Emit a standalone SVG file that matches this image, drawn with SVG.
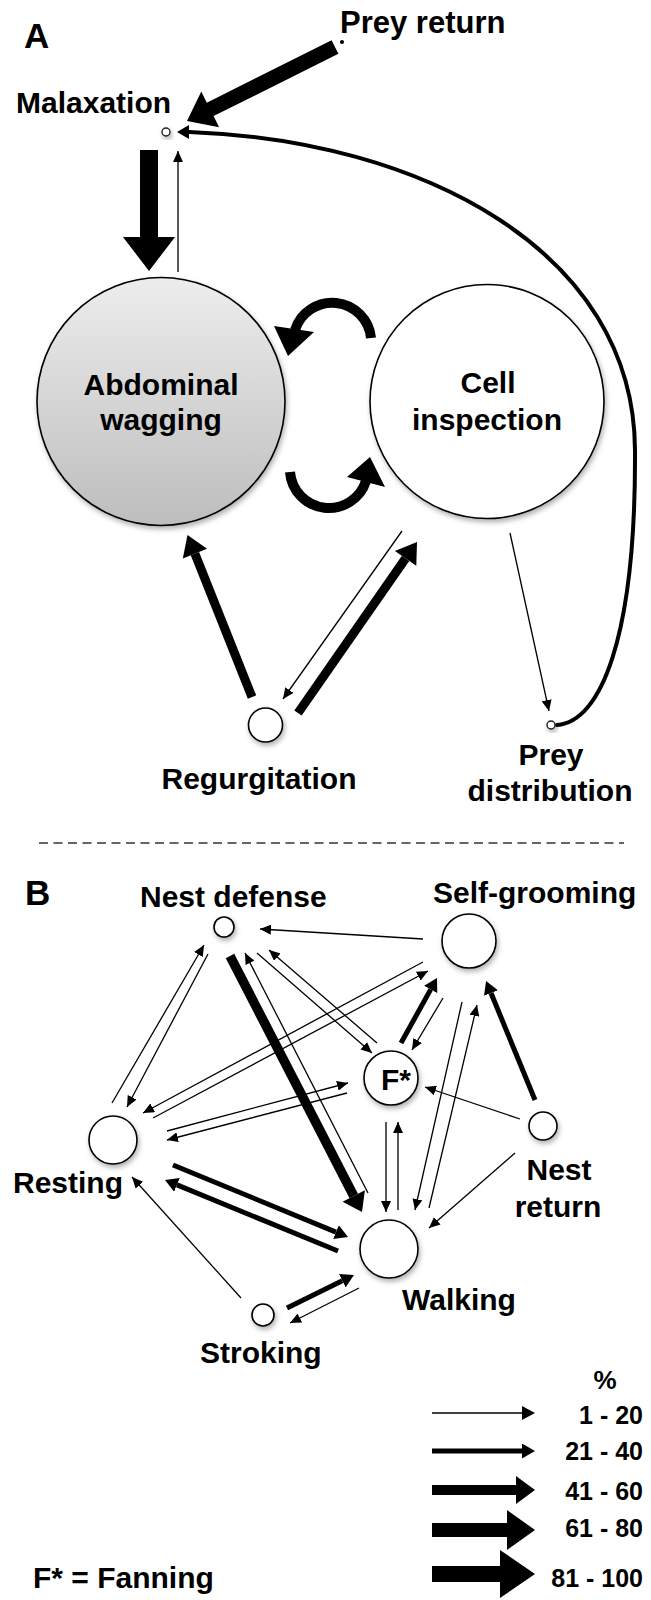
<svg xmlns="http://www.w3.org/2000/svg" width="651" height="1600" viewBox="0 0 651 1600">
<defs>
<style>
text{font-family:"Liberation Sans",Arial,Helvetica,sans-serif;font-weight:bold;fill:#000}
.lbl{font-size:30px}
.pnl{font-size:35px}
.num{font-size:25px}
.node{fill:#fff;stroke:#000;stroke-width:1.6}
.sm{fill:#fff;stroke:#222;stroke-width:1.4}
.t1{stroke:#000;stroke-width:1.3;fill:none;marker-end:url(#h1)}
.t2{stroke:#000;stroke-width:5;fill:none;marker-end:url(#h2)}
.t3{stroke:#000;stroke-width:9;fill:none}
.cv{stroke:#000;stroke-width:10;fill:none}
.hd{fill:#000}
</style>
<marker id="h1" markerUnits="userSpaceOnUse" viewBox="0 0 11 10" markerWidth="11" markerHeight="10" refX="11" refY="5" orient="auto"><path d="M0,0 L11,5 L0,10 z"/></marker>
<marker id="h2" markerUnits="userSpaceOnUse" viewBox="0 0 13 15" markerWidth="13" markerHeight="15" refX="0" refY="7.5" orient="auto"><path d="M0,0 L13,7.5 L0,15 z"/></marker>
<linearGradient id="gAW" x1="0" y1="0" x2="0" y2="1"><stop offset="0" stop-color="#ededed"/><stop offset="1" stop-color="#bdbdbd"/></linearGradient>
<filter id="sh" x="-30%" y="-30%" width="170%" height="170%"><feDropShadow dx="1.5" dy="3" stdDeviation="2.5" flood-color="#000" flood-opacity="0.3"/></filter>
</defs>
<rect width="651" height="1600" fill="#fff"/>

<text class="pnl" x="24" y="48">A</text>
<text class="pnl" x="25" y="905">B</text>

<g id="connectors">
  <!-- Part A -->
  <polygon class="hd" points="331.6,40.3 206.8,102.7 201.3,91.5 187,121 219.1,127.3 213.6,116.1 338.4,53.7"/>
  <polygon class="hd" points="140,150 158,150 158,237 175,237 149,271 123,237 140,237"/>
  <line class="t1" x1="178" y1="272" x2="178" y2="151"/>
  <path d="M 557 725 C 600 722, 636 640, 635 450 C 634 250, 420 140, 189 132" stroke="#000" stroke-width="4" fill="none" stroke-linecap="round"/>
  <polygon class="hd" points="189,125 177,132 189,139"/>
  <path class="cv" d="M 371 338 A 39 39 0 0 0 295 330"/>
  <polygon class="hd" points="274,326 288,356 314,332"/>
  <path class="cv" d="M 290 472 A 39 39 0 0 0 366 481"/>
  <polygon class="hd" points="347,477 370,457 385,487"/>
  <line class="t3" x1="252" y1="697" x2="194.9" y2="553.6"/>
  <polygon class="hd" points="207,548.8 187.5,535 182.8,558.4"/>
  <line class="t3" x1="298" y1="713" x2="405.6" y2="558.4"/>
  <polygon class="hd" points="416.3,565.8 417,542 394.9,551"/>
  <line class="t1" x1="402" y1="531" x2="283" y2="699"/>
  <line class="t1" x1="510" y1="533" x2="549" y2="711"/>

  <!-- Part B -->
  <line class="t1" x1="423" y1="939" x2="260" y2="929"/>
  <line class="t1" x1="112" y1="1103" x2="204" y2="945"/>
  <line class="t1" x1="208" y1="954" x2="127" y2="1107"/>
  <line x1="230" y1="956" x2="353.75" y2="1196" stroke="#000" stroke-width="9.5"/>
  <polygon class="hd" points="364.9,1190.3 362,1212 342.6,1201.7"/>
  <line class="t1" x1="368" y1="1193" x2="245" y2="953"/>
  <line class="t1" x1="257" y1="953" x2="372" y2="1053"/>
  <line class="t1" x1="377" y1="1043" x2="269" y2="950"/>
  <line class="t1" x1="423" y1="962" x2="143" y2="1113"/>
  <line class="t1" x1="153" y1="1118" x2="428" y2="971"/>
  <line class="t2" x1="401" y1="1043" x2="430.7" y2="989.4"/>
  <line class="t1" x1="443" y1="998" x2="412" y2="1050"/>
  <line class="t1" x1="167" y1="1131" x2="348" y2="1083"/>
  <line class="t1" x1="347" y1="1093" x2="167" y2="1140"/>
  <line class="t2" x1="173" y1="1165" x2="336" y2="1232.1"/>
  <line class="t2" x1="338" y1="1251" x2="177" y2="1184.9"/>
  <line class="t1" x1="241" y1="1298" x2="132" y2="1177"/>
  <line class="t2" x1="287" y1="1308" x2="342.3" y2="1280.7"/>
  <line class="t1" x1="359" y1="1288" x2="290" y2="1323"/>
  <line class="t1" x1="386" y1="1122" x2="386" y2="1212"/>
  <line class="t1" x1="398" y1="1210" x2="398" y2="1122"/>
  <line class="t1" x1="429" y1="1208" x2="477" y2="1005"/>
  <line class="t1" x1="462" y1="1002" x2="415" y2="1210"/>
  <line class="t2" x1="535" y1="1100" x2="491" y2="993"/>
  <line class="t1" x1="520" y1="1119" x2="425" y2="1087"/>
  <line class="t1" x1="515" y1="1153" x2="429" y2="1228"/>
</g>

<g id="node-prey-return">
  <circle cx="342" cy="42" r="2" fill="#000"/>
  <text class="lbl" x="340" y="33" style="font-size:31px">Prey return</text>
</g>
<g id="node-malaxation">
  <circle class="sm" cx="166" cy="132" r="4" filter="url(#sh)"/>
  <text class="lbl" x="16" y="113">Malaxation</text>
</g>
<g id="node-abdominal-wagging">
  <circle cx="161" cy="401.5" r="124" fill="url(#gAW)" stroke="#000" stroke-width="1.6" filter="url(#sh)"/>
  <text class="lbl" x="161" y="395" text-anchor="middle">Abdominal</text>
  <text class="lbl" x="161" y="430" text-anchor="middle">wagging</text>
</g>
<g id="node-cell-inspection">
  <circle class="node" cx="487" cy="401.5" r="117" filter="url(#sh)"/>
  <text class="lbl" x="488" y="393" text-anchor="middle">Cell</text>
  <text class="lbl" x="487" y="430" text-anchor="middle">inspection</text>
</g>
<g id="node-regurgitation">
  <circle class="node" cx="265.5" cy="725" r="17" filter="url(#sh)"/>
  <text class="lbl" x="259" y="789" text-anchor="middle">Regurgitation</text>
</g>
<g id="node-prey-distribution">
  <circle class="sm" cx="551" cy="725" r="4" filter="url(#sh)"/>
  <text class="lbl" x="551" y="765" text-anchor="middle">Prey</text>
  <text class="lbl" x="550" y="801" text-anchor="middle">distribution</text>
</g>

<line id="divider" x1="39" y1="843" x2="624" y2="843" stroke="#333" stroke-width="1.5" stroke-dasharray="9 5.5"/>

<g id="node-nest-defense">
  <circle class="node" cx="224" cy="927" r="10" filter="url(#sh)"/>
  <text class="lbl" x="140" y="907">Nest defense</text>
</g>
<g id="node-self-grooming">
  <circle class="node" cx="469" cy="941" r="27" filter="url(#sh)"/>
  <text class="lbl" x="433" y="903">Self-grooming</text>
</g>
<g id="node-fanning">
  <circle class="node" cx="391" cy="1078" r="27" filter="url(#sh)"/>
  <text class="lbl" x="381" y="1090">F*</text>
</g>
<g id="node-resting">
  <circle class="node" cx="113" cy="1140" r="24" filter="url(#sh)"/>
  <text class="lbl" x="13" y="1193">Resting</text>
</g>
<g id="node-nest-return">
  <circle class="node" cx="543" cy="1126" r="14" filter="url(#sh)"/>
  <text class="lbl" x="559" y="1180" text-anchor="middle">Nest</text>
  <text class="lbl" x="558" y="1217" text-anchor="middle">return</text>
</g>
<g id="node-walking">
  <circle class="node" cx="389" cy="1249" r="29" filter="url(#sh)"/>
  <text class="lbl" x="402" y="1310">Walking</text>
</g>
<g id="node-stroking">
  <circle class="node" cx="263" cy="1315" r="11" filter="url(#sh)"/>
  <text class="lbl" x="200" y="1363">Stroking</text>
</g>

<g id="legend">
  <text class="num" x="605" y="1389" text-anchor="middle" style="font-size:26px">%</text>
  <line stroke="#000" stroke-width="1.5" x1="432" y1="1413" x2="522" y2="1413"/>
  <polygon class="hd" points="522,1406 535,1413 522,1420"/>
  <text class="num" x="643" y="1424" text-anchor="end">1 - 20</text>
  <line class="t2" x1="432" y1="1451" x2="522" y2="1451"/>
  <text class="num" x="643" y="1460" text-anchor="end">21 - 40</text>
  <polygon class="hd" points="432,1485 516,1485 516,1476 535,1490 516,1504 516,1495 432,1495"/>
  <text class="num" x="643" y="1500" text-anchor="end">41 - 60</text>
  <polygon class="hd" points="432,1523 507,1523 507,1510 535,1530 507,1550 507,1537 432,1537"/>
  <text class="num" x="643" y="1537" text-anchor="end">61 - 80</text>
  <polygon class="hd" points="432,1566 500,1566 500,1550 535,1574 500,1598 500,1582 432,1582"/>
  <text class="num" x="643" y="1587" text-anchor="end">81 - 100</text>
  <text class="lbl" x="33" y="1588">F* = Fanning</text>
</g>
</svg>
